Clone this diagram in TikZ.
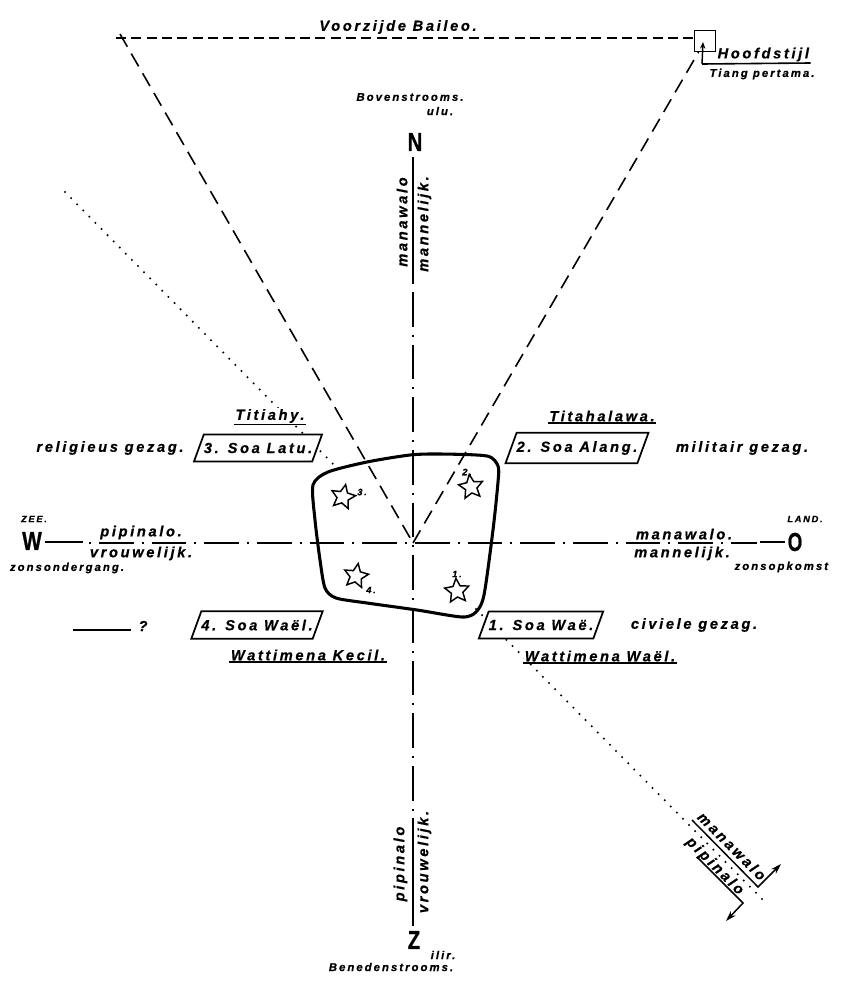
\documentclass[tikz,border=0pt]{standalone}
\usepackage{fontspec}
\newfontfamily\hand{Liberation Sans}[LetterSpace=18, BoldItalicFeatures={FakeBold=0.6}]
\newfontfamily\cardf{Liberation Sans}[BoldFeatures={FakeBold=0.8}]
\usetikzlibrary{shapes.geometric,arrows.meta}
\newcommand\fsz[1]{\fontsize{#1}{#1}\selectfont}
\tikzset{
  lbl/.style={font=\hand\bfseries\itshape\fsz{11pt}, inner sep=1pt},
  sml/.style={font=\hand\bfseries\itshape\fsz{8.5pt}, inner sep=1pt},
  tny/.style={font=\hand\bfseries\itshape\fsz{7pt}, inner sep=1pt},
  card/.style={font=\cardf\bfseries\fsz{19.5pt}, inner sep=0pt},
  ul/.style={append after command={(\tikzlastnode.south west) edge[draw, line width=1.2pt] (\tikzlastnode.south east)}},
  mask/.style={fill=white},
  soa/.style={lbl, draw, line width=1.3pt, fill=white, trapezium, trapezium left angle=70, trapezium right angle=110, inner ysep=6.3pt, inner xsep=0pt},
  postbox/.style={draw, line width=1.1pt, minimum size=15.5pt, inner sep=0pt},
  axis/.style={line width=1.1pt, dash pattern=on 1.5pt off 6pt on 26pt off 6pt},
  solidax/.style={line width=1.1pt},
  topdash/.style={line width=1.3pt, dash pattern=on 7.5pt off 4pt},
  vdash/.style={line width=1.2pt, dash pattern=on 11pt off 6pt},
  dotl/.style={line width=1.7pt, line cap=round, dash pattern=on 0pt off 6.5pt},
  blob/.style={line width=2.3pt, line join=round},
  starn/.style={star, star points=5, star point ratio=2.1, draw, line width=1.1pt, minimum size=19pt, inner sep=0pt},
  arr/.style={line width=1.1pt, -{Stealth[length=8pt,width=5pt]}}
}
\begin{document}
\begin{tikzpicture}[x=0.75pt,y=-0.75pt]
\fill[white] (0,0) rectangle (840,1003);
\useasboundingbox (0,0) rectangle (840,1003);

% key points
\coordinate (c) at (413,543);
\node[postbox] (post) at (705,41) {};

% top dashed line and V
\coordinate (tl0) at (116,38);
\coordinate (tl1) at (120,34);
\draw[topdash] (tl0) -- (tl0 -| post.west);
\draw[vdash] (tl1) -- (c);
\draw[vdash] (c) -- (post);

% dotted diagonal
\coordinate (d1) at (65,192);
\coordinate (d2) at (337,468);
\coordinate (d3) at (476,609);
\coordinate (d4) at (768,905);
\draw[dotl] (d1) -- (d2);
\draw[dotl] (d3) -- (d4);

% axes
\coordinate (nA) at (413,157);
\coordinate (nB) at (413,282);
\coordinate (nC) at (413,818);
\coordinate (nD) at (413,926);
\draw[solidax] (nA) -- (nB);
\draw[axis] (nB) -- (nC);
\draw[solidax] (nC) -- (nD);
\coordinate (wA) at (45,542);
\coordinate (wB) at (83,542);
\coordinate (wC) at (89,543);
\coordinate (eC) at (757,543);
\coordinate (eB) at (760,542);
\coordinate (eA) at (785,542);
\draw[solidax] (wA) -- (wB);
\draw[axis] (wC) -- (eC);
\draw[solidax] (eB) -- (eA);

% the blob
\draw[blob] plot[smooth cycle, tension=0.45] coordinates {(313,485) (328,472) (367,462) (410,455) (440,454) (487,456) (498,466) (498,482) (493,530) (484,595) (476,612) (462,617) (417,610) (367,603) (336,598) (325,588) (320,560) (315,520)};

% stars
\node[starn, rotate=-12] (s3) at (343,497) {};
\node[starn, rotate=8] (s2) at (471,487) {};
\node[starn, rotate=-10] (s4) at (356,576) {};
\node[starn, rotate=5] (s1) at (457,591) {};
\node[tny] (n3) at (362,492) {3.};
\node[tny] (n2) at (467,472) {2.};
\node[tny] (n4) at (371,590) {4.};
\node[tny] (n1) at (457,574) {1.};

% cardinal letters
\node[card] (N) at (415,142) {\scalebox{0.78}[1]{N}};
\node[card] (Z) at (414,940) {\scalebox{0.78}[1]{Z}};
\node[card] (W) at (32,541) {\scalebox{0.8}[1]{W}};
\node[card] (O) at (795,542) {\scalebox{0.72}[1]{O}};
\node[tny] (zee) at (34,519) {ZEE.};
\node[tny] (land) at (805,519) {LAND.};
\node[sml] (zso) at (67,568) {zonsondergang.};
\node[sml, anchor=west] (zsp) at (733,567) {zonsopkomst};
\node[sml] (bov) at (410,97) {Bovenstrooms.};
\node[sml] (ulu) at (440,111) {ulu.};
\node[sml] (ben) at (391,967) {Benedenstrooms.};
\node[sml] (ilir) at (443,955) {ilir.};

% axis labels
\node[lbl, rotate=90, anchor=south] (vn1) at (409,222) {manawalo};
\node[lbl, rotate=90, anchor=north] (vn2) at (416,224) {mannelijk.};
\node[lbl, rotate=90, anchor=south] (vs1) at (409,864) {pipinalo};
\node[lbl, rotate=90, anchor=north] (vs2) at (416,862) {vrouwelijk.};
\node[lbl, anchor=south] (hw1) at (141,541) {pipinalo.};
\node[lbl, anchor=north] (hw2) at (141,545) {vrouwelijk.};
\node[lbl, anchor=south] (he1) at (684,541) {manawalo.};
\node[lbl, anchor=north] (he2) at (682,545) {mannelijk.};

% top labels
\node[lbl] (vb) at (398,27) {Voorzijde Baileo.};
\node[lbl, anchor=south west] (hf) at (716,63) {Hoofdstijl};
\node[sml] (tp) at (762,74) {Tiang pertama.};
\coordinate (hk) at (702,64);
\coordinate (htip) at (703,42);
\draw[line width=1.2pt] (hk) -- (hf.south east);
\draw[line width=1.1pt, -{Stealth[length=5pt,width=4pt]}] (hk) -- (htip);

% soa boxes and labels
\node[lbl, ul, mask] (tit) at (270,416) {Titiahy.};
\node[lbl, ul, mask] (tith) at (602,416) {Titahalawa.};
\node[lbl] (rel) at (110,448) {religieus gezag.};
\node[soa] (b3) at (258,448) {3. Soa Latu.};
\node[soa] (b2) at (577,448) {2. Soa Alang.};
\node[lbl] (mil) at (742,448) {militair gezag.};
\node[soa] (b4) at (257,625) {4. Soa Waël.};
\node[soa] (b1) at (541,625) {1. Soa Waë.};
\node[lbl] (civ) at (694,625) {civiele gezag.};
\node[lbl, ul, mask] (wk) at (308,655) {Wattimena Kecil.};
\node[lbl, ul, mask] (ww) at (600,656) {Wattimena Waël.};
\node[lbl] (q) at (143,626) {?};
\coordinate (qa) at (73,630);
\coordinate (qb) at (131,630);
\draw[line width=1.2pt] (qa) -- (qb);

% double arrow at lower right
\coordinate (m1) at (692,820);
\coordinate (m2) at (758,887);
\coordinate (m3) at (781,864);
\coordinate (p1) at (697,857);
\coordinate (p2) at (743,903);
\coordinate (p3) at (726,921);
\draw[arr] (m1) -- (m2) -- (m3);
\draw[arr] (p1) -- (p2) -- (p3);
\node[lbl, rotate=-45, anchor=south] (mw) at (727,851) {manawalo};
\node[lbl, rotate=-45, anchor=base] (pp) at (712,869) {pipinalo};
\end{tikzpicture}
\end{document}
